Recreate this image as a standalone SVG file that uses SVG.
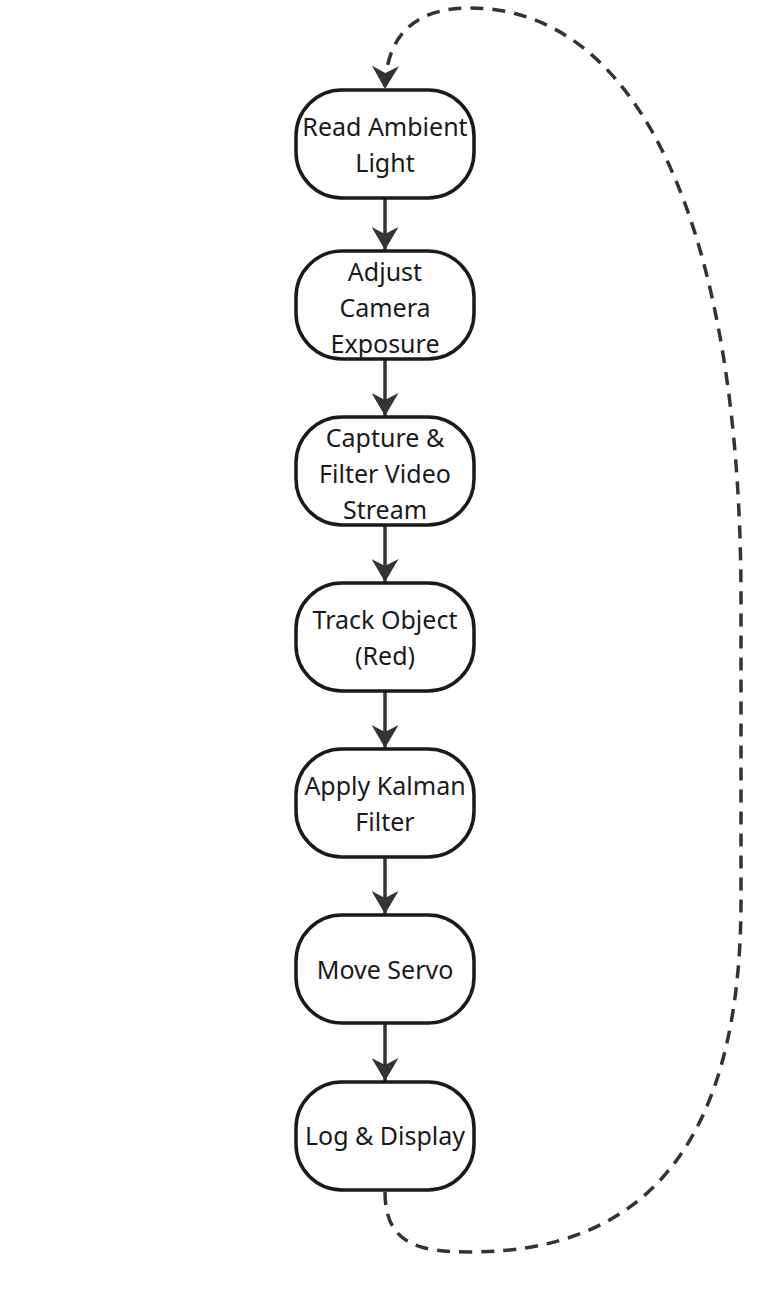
<svg xmlns="http://www.w3.org/2000/svg" width="771" height="1296" viewBox="0 0 771 1296">
<style>
.node rect{fill:#fff;stroke:#1a1a1a;stroke-width:3.5}
.node text{font-family:"Noto Sans","DejaVu Sans",sans-serif;font-size:25px;fill:#1a1a1a;text-anchor:middle}
.edge{stroke:#333;stroke-width:3.5;fill:none}
.dash{stroke-dasharray:13 9}
</style>
<defs>
<marker id="arr" markerUnits="userSpaceOnUse" viewBox="0 0 23 27" refX="23" refY="13.5" markerWidth="23" markerHeight="27" orient="auto">
<path d="M0,0 L23,13.5 L0,27 L7,13.5 z" fill="#333"/>
</marker>
</defs>
<rect width="771" height="1296" fill="#fff"/>
<g id="connectors">
<line class="edge" x1="385" y1="199" x2="385" y2="250" marker-end="url(#arr)"/>
<line class="edge" x1="385" y1="360" x2="385" y2="416" marker-end="url(#arr)"/>
<line class="edge" x1="385" y1="526" x2="385" y2="582" marker-end="url(#arr)"/>
<line class="edge" x1="385" y1="692" x2="385" y2="748" marker-end="url(#arr)"/>
<line class="edge" x1="385" y1="858" x2="385" y2="914" marker-end="url(#arr)"/>
<line class="edge" x1="385" y1="1024" x2="385" y2="1081" marker-end="url(#arr)"/>
<path class="edge dash" d="M385,1192 C385,1245 420,1252 470,1252 C640,1252 741,1150 741,900 L741,600 C741,230 640,8 470,8 C410,8 386,40 385,89" marker-end="url(#arr)"/>
</g>
<g id="n1" class="node"><rect x="296" y="90" width="178" height="108" rx="46"/><text x="385" y="136">Read Ambient</text><text x="385" y="172">Light</text></g>
<g id="n2" class="node"><rect x="296" y="251" width="178" height="108" rx="46"/><text x="385" y="281">Adjust</text><text x="385" y="317">Camera</text><text x="385" y="353">Exposure</text></g>
<g id="n3" class="node"><rect x="296" y="417" width="178" height="108" rx="46"/><text x="385" y="447">Capture &amp;</text><text x="385" y="483">Filter Video</text><text x="385" y="519">Stream</text></g>
<g id="n4" class="node"><rect x="296" y="583" width="178" height="108" rx="46"/><text x="385" y="629">Track Object</text><text x="385" y="665">(Red)</text></g>
<g id="n5" class="node"><rect x="296" y="749" width="178" height="108" rx="46"/><text x="385" y="795">Apply Kalman</text><text x="385" y="831">Filter</text></g>
<g id="n6" class="node"><rect x="296" y="915" width="178" height="108" rx="46"/><text x="385" y="979">Move Servo</text></g>
<g id="n7" class="node"><rect x="296" y="1082" width="178" height="108" rx="46"/><text x="385" y="1145">Log &amp; Display</text></g>
</svg>
